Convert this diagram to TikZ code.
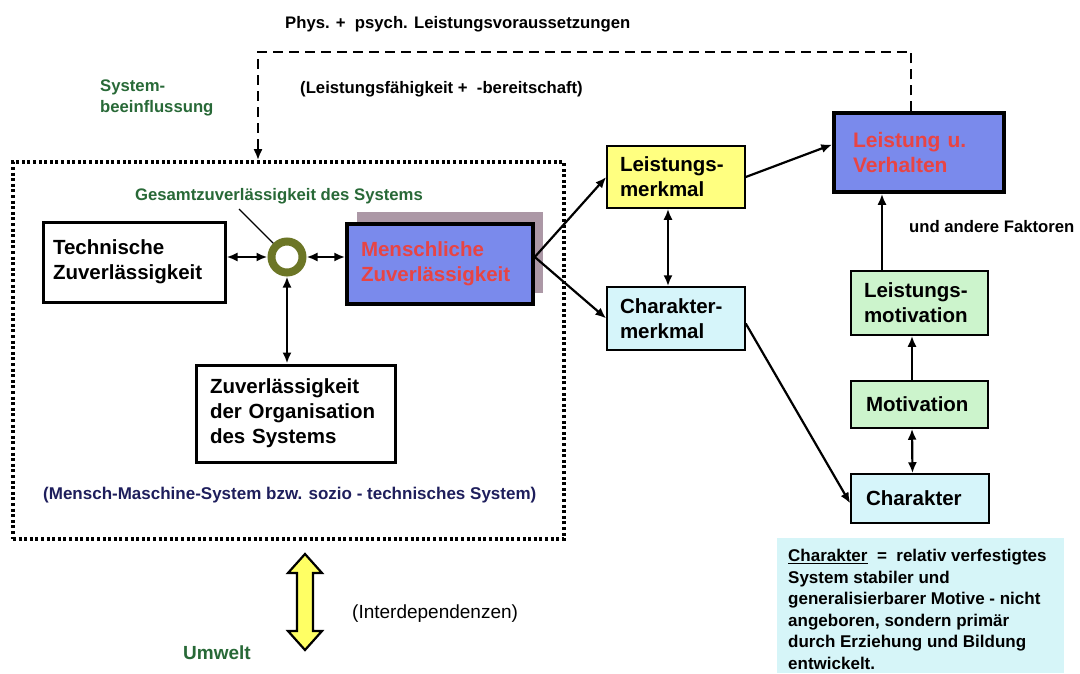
\documentclass[tikz,border=0pt]{standalone}
\usepackage{fontspec}
\setmainfont{Liberation Sans}
\usetikzlibrary{arrows.meta,calc}
\definecolor{blueF}{RGB}{122,138,236}
\definecolor{redT}{RGB}{232,68,68}
\definecolor{shadowC}{RGB}{172,152,166}
\definecolor{yelF}{RGB}{255,255,128}
\definecolor{cyanF}{RGB}{214,245,250}
\definecolor{greenF}{RGB}{204,244,204}
\definecolor{descF}{RGB}{214,245,248}
\definecolor{greenT}{RGB}{40,105,55}
\definecolor{navyT}{RGB}{30,30,92}
\definecolor{oliveR}{RGB}{108,118,38}
\definecolor{yelA}{RGB}{255,255,100}
\begin{document}
\begin{tikzpicture}[x=1pt,y=-1pt,
  box/.style={draw, line width=3pt, inner ysep=0pt, align=left,
    font=\fontsize{20.5}{25}\selectfont\bfseries},
  cbox/.style={draw, line width=1.5pt, inner ysep=0pt, align=left,
    font=\fontsize{20.5}{25}\selectfont\bfseries},
  lbl/.style={font=\fontsize{16.7}{21}\selectfont\bfseries, inner sep=0pt},
  arr/.style={line width=2.2pt, -{Latex[length=11pt,width=9pt]}},
  darr/.style={line width=2.2pt, {Latex[length=11pt,width=9pt]}-{Latex[length=11pt,width=9pt]}}]
\useasboundingbox (0,0) rectangle (1080,673);
\fill[white] (0,0) rectangle (1080,673);

% system box
\node[draw, line width=3.6pt, dash pattern=on 3pt off 2.6pt, minimum width=551pt, minimum height=377pt, inner sep=0pt] (sys) at (288.5,350.5) {};

% left part
\node[box, minimum width=182pt, minimum height=80pt, text width=162pt, inner xsep=10pt] (tech) at (134,262) {Technische\\Zuverlässigkeit};
\fill[shadowC] (357,212) rectangle (543,293);
\node[box, line width=3.5pt, fill=blueF, text=redT, minimum width=186pt, minimum height=80pt, text width=158pt, inner xsep=14pt] (mensch) at (440,264) {Menschliche\\Zuverlässigkeit};
\node[box, minimum width=199pt, minimum height=97pt, text width=171pt, inner xsep=14pt] (org) at (295.5,413.5) {Zuverlässigkeit\\der Organisation\\des Systems};
\node[circle, draw=oliveR, line width=8pt, fill=white, minimum size=31pt, inner sep=0pt] (circ) at (287,257) {};

% right part
\node[cbox, fill=yelF, minimum width=138pt, minimum height=62pt, text width=112pt, inner xsep=13pt] (lm) at (676,177) {Leistungs-\\merkmal};
\node[cbox, fill=cyanF, minimum width=138pt, minimum height=63pt, text width=112pt, inner xsep=13pt] (cm) at (676,318.5) {Charakter-\\merkmal};
\node[box, line width=3.5pt, fill=blueF, text=redT, minimum width=170pt, minimum height=79pt, text width=132pt, inner xsep=19pt, font=\fontsize{21}{25}\selectfont\bfseries] (lv) at (919,152.5) {Leistung u.\\Verhalten};
\node[cbox, fill=greenF, minimum width=137pt, minimum height=64pt, text width=111pt, inner xsep=13pt] (lmo) at (919.5,303) {Leistungs-\\motivation};
\node[cbox, fill=greenF, minimum width=137pt, minimum height=47pt, text width=107pt, inner xsep=15pt] (mot) at (919.5,404.5) {Motivation};
\node[cbox, fill=cyanF, minimum width=138pt, minimum height=49pt, text width=108pt, inner xsep=15pt] (ch) at (920,498.5) {Charakter};

% description
\node[fill=descF, minimum width=287pt, minimum height=135pt, inner sep=0pt, anchor=north west] (descbg) at (777,538) {};
\node[anchor=north west, align=left, inner sep=0pt, font=\fontsize{17}{21.5}\selectfont\bfseries] (desc) at (788,549) {\underline{Charakter}\ \ =\ \ relativ verfestigtes\\System stabiler und\\generalisierbarer Motive - nicht\\angeboren, sondern primär\\durch Erziehung und Bildung\\entwickelt.};

% labels
\node[lbl, anchor=base west] (phys) at (285,28) {Phys. +\ \ psych. Leistungsvoraussetzungen};
\node[lbl, anchor=base west] (lfb) at (300,93) {(Leistungsfähigkeit +\ \ -bereitschaft)};
\node[lbl, text=greenT, anchor=west, align=left] (sb) at (100,98) {System-\\beeinflussung};
\node[lbl, text=greenT] (ges) at (279,196) {Gesamtzuverlässigkeit des Systems};
\node[lbl, anchor=west] (uaf) at (909,227) {und andere Faktoren};
\node[lbl, text=navyT, anchor=west, font=\fontsize{17}{21}\selectfont\bfseries] (mms) at (43,495) {(Mensch-Maschine-System bzw. sozio - technisches System)};
\node[inner sep=0pt, anchor=west, font=\fontsize{19}{23}\selectfont] (inter) at (352,614) {(Interdependenzen)};
\node[inner sep=0pt, anchor=west, text=greenT, font=\fontsize{19}{23}\selectfont\bfseries] (umw) at (183,653) {Umwelt};

% connectors
\draw[line width=2.4pt, dash pattern=on 10pt off 6pt, -{Latex[length=11pt,width=9pt]}] ([xshift=-8pt]lv.north) -- ++(0,-59.5) -| ([xshift=-30.5pt]sys.north);
\draw[line width=1.3pt] ([xshift=-40pt,yshift=-5pt]ges.south) -- (circ.north west);
\draw[darr] (circ.west -| tech.east) -- (circ.west);
\draw[darr] (circ.east) -- (circ.east -| mensch.west);
\draw[darr] (circ.south) -- (circ.south |- org.north);
\draw[arr] ([yshift=7pt]mensch.east) -- (lm.west);
\draw[arr] ([yshift=7pt]mensch.east) -- (cm.west);
\draw[darr] ([xshift=-8pt]lm.south) -- ([xshift=-8pt]cm.north);
\draw[arr] (lm.east) -- ([yshift=8pt]lv.west);
\draw[arr] ([xshift=-37.5pt]lmo.north) -- ([xshift=-37.5pt]lmo.north |- lv.south);
\draw[arr] ([xshift=-7.5pt]mot.north) -- ([xshift=-7.5pt]lmo.south);
\draw[darr] ([xshift=-7.5pt]mot.south) -- ([xshift=-7.5pt]ch.north);
\draw[arr] ([yshift=-5pt]cm.east) -- ([yshift=-5pt]ch.west);

% yellow double arrow (system <-> Umwelt)
\filldraw[fill=yelA, draw=black, line width=2.2pt, line join=miter]
  (305,554) -- (322,573) -- (313,573) -- (313,631) -- (322,631) -- (305,650)
  -- (288,631) -- (297,631) -- (297,573) -- (288,573) -- cycle;
\end{tikzpicture}
\end{document}
